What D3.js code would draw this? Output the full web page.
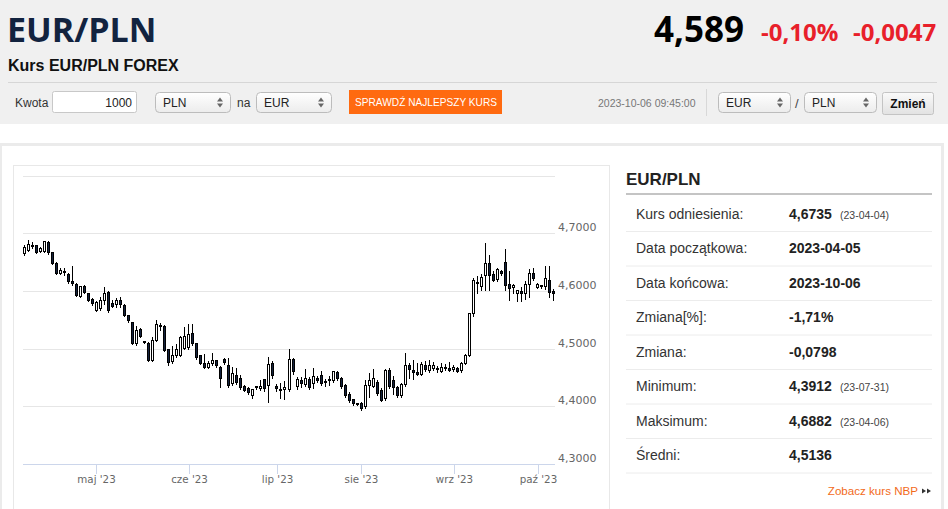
<!DOCTYPE html>
<html lang="pl">
<head>
<meta charset="utf-8">
<title>EUR/PLN</title>
<script src="https://cdn.jsdelivr.net/npm/d3@7.9.0/dist/d3.min.js"></script>
<style>
  html, body { margin: 0; padding: 0; background: #fff; overflow: hidden; }
  svg { display: block; }
  text { font-family: "Liberation Sans", Arial, sans-serif; }
</style>
</head>
<body>
<svg id="page" width="948" height="509"></svg>
<script>
// quote header
const pairName = 'EUR/PLN';
const subtitle = 'Kurs EUR/PLN FOREX';
const lastPrice = '4,589';
const changePct = '-0,10%';
const changeAbs = '-0,0047';
const quoteTime = '2023-10-06 09:45:00';

// daily candles, trading days from startDay to endDay
const startDay = '2023-04-05';
const endDay = '2023-10-06';

const opens = [
  4.664, 4.670, 4.678, 4.677, 4.667, 4.668, 4.683, 4.665, 4.647, 4.629,
  4.633, 4.628, 4.616, 4.611, 4.589, 4.607, 4.595, 4.584, 4.566, 4.569,
  4.582, 4.597, 4.577, 4.576, 4.583, 4.574, 4.556, 4.544, 4.508, 4.532,
  4.511, 4.508, 4.479, 4.514, 4.540, 4.538, 4.497, 4.476, 4.487, 4.488,
  4.500, 4.501, 4.525, 4.508, 4.487, 4.473, 4.467, 4.474, 4.478, 4.467,
  4.481, 4.470, 4.438, 4.452, 4.447, 4.433, 4.430, 4.418, 4.432, 4.430,
  4.446, 4.436, 4.474, 4.433, 4.428, 4.429, 4.428, 4.480, 4.433, 4.444,
  4.437, 4.446, 4.438, 4.447, 4.453, 4.440, 4.443, 4.444, 4.457, 4.448,
  4.435, 4.420, 4.411, 4.404, 4.404, 4.398, 4.435, 4.434, 4.440, 4.427,
  4.412, 4.462, 4.444, 4.432, 4.418, 4.437, 4.470, 4.462, 4.458, 4.455,
  4.470, 4.462, 4.465, 4.464, 4.460, 4.467, 4.465, 4.463, 4.464, 4.461,
  4.474, 4.488, 4.560, 4.614, 4.606, 4.625, 4.647, 4.628, 4.619, 4.632,
  4.649, 4.611, 4.605, 4.594, 4.598, 4.594, 4.610, 4.629, 4.605, 4.609,
  4.606, 4.618, 4.598
];
const highs = [
  4.679, 4.688, 4.684, 4.680, 4.676, 4.687, 4.686, 4.667, 4.650, 4.640,
  4.640, 4.631, 4.643, 4.614, 4.609, 4.611, 4.597, 4.588, 4.583, 4.589,
  4.607, 4.600, 4.585, 4.588, 4.590, 4.577, 4.559, 4.545, 4.540, 4.535,
  4.513, 4.512, 4.520, 4.549, 4.545, 4.541, 4.500, 4.505, 4.508, 4.522,
  4.538, 4.543, 4.543, 4.510, 4.489, 4.490, 4.479, 4.493, 4.480, 4.469,
  4.484, 4.484, 4.468, 4.466, 4.455, 4.437, 4.433, 4.430, 4.436, 4.445,
  4.448, 4.486, 4.478, 4.438, 4.441, 4.444, 4.499, 4.484, 4.450, 4.450,
  4.465, 4.450, 4.466, 4.452, 4.462, 4.448, 4.452, 4.461, 4.462, 4.451,
  4.438, 4.425, 4.413, 4.406, 4.407, 4.446, 4.457, 4.464, 4.445, 4.432,
  4.465, 4.466, 4.453, 4.435, 4.440, 4.492, 4.475, 4.480, 4.475, 4.476,
  4.478, 4.480, 4.477, 4.470, 4.475, 4.474, 4.477, 4.472, 4.468, 4.476,
  4.490, 4.562, 4.623, 4.626, 4.629, 4.683, 4.663, 4.635, 4.640, 4.636,
  4.672, 4.635, 4.612, 4.602, 4.606, 4.617, 4.638, 4.639, 4.614, 4.611,
  4.643, 4.643, 4.603
];
const lows = [
  4.661, 4.667, 4.672, 4.664, 4.665, 4.665, 4.662, 4.645, 4.627, 4.627,
  4.626, 4.612, 4.609, 4.590, 4.588, 4.594, 4.581, 4.574, 4.563, 4.566,
  4.575, 4.561, 4.570, 4.571, 4.570, 4.555, 4.544, 4.506, 4.505, 4.518,
  4.508, 4.477, 4.476, 4.512, 4.530, 4.494, 4.470, 4.473, 4.484, 4.486,
  4.497, 4.498, 4.505, 4.481, 4.471, 4.465, 4.464, 4.470, 4.467, 4.432,
  4.472, 4.432, 4.435, 4.437, 4.428, 4.424, 4.420, 4.413, 4.428, 4.427,
  4.425, 4.406, 4.448, 4.425, 4.413, 4.411, 4.425, 4.455, 4.428, 4.432,
  4.434, 4.429, 4.430, 4.440, 4.436, 4.434, 4.435, 4.440, 4.444, 4.430,
  4.415, 4.406, 4.400, 4.400, 4.3912, 4.395, 4.414, 4.431, 4.418, 4.407,
  4.409, 4.430, 4.420, 4.414, 4.415, 4.434, 4.448, 4.445, 4.452, 4.452,
  4.459, 4.458, 4.461, 4.457, 4.458, 4.461, 4.460, 4.460, 4.457, 4.457,
  4.471, 4.485, 4.555, 4.594, 4.600, 4.600, 4.600, 4.615, 4.615, 4.626,
  4.600, 4.583, 4.594, 4.580, 4.580, 4.585, 4.588, 4.618, 4.603, 4.603,
  4.602, 4.588, 4.583
];
const closes = [
  4.675, 4.680, 4.676, 4.666, 4.673, 4.685, 4.665, 4.647, 4.630, 4.634,
  4.632, 4.616, 4.612, 4.592, 4.607, 4.596, 4.583, 4.578, 4.579, 4.583,
  4.595, 4.566, 4.572, 4.583, 4.575, 4.557, 4.547, 4.508, 4.530, 4.520,
  4.510, 4.479, 4.513, 4.541, 4.538, 4.496, 4.475, 4.487, 4.497, 4.519,
  4.520, 4.524, 4.508, 4.484, 4.474, 4.467, 4.474, 4.479, 4.470, 4.447,
  4.475, 4.435, 4.456, 4.441, 4.432, 4.427, 4.423, 4.428, 4.433, 4.434,
  4.430, 4.472, 4.452, 4.430, 4.429, 4.431, 4.480, 4.460, 4.445, 4.438,
  4.448, 4.432, 4.450, 4.444, 4.439, 4.442, 4.446, 4.459, 4.447, 4.434,
  4.418, 4.410, 4.404, 4.403, 4.396, 4.435, 4.444, 4.447, 4.421, 4.410,
  4.462, 4.433, 4.432, 4.418, 4.437, 4.470, 4.463, 4.457, 4.455, 4.471,
  4.463, 4.470, 4.470, 4.463, 4.467, 4.466, 4.462, 4.466, 4.460, 4.474,
  4.488, 4.560, 4.617, 4.612, 4.623, 4.646, 4.626, 4.618, 4.637, 4.630,
  4.609, 4.603, 4.608, 4.600, 4.594, 4.611, 4.629, 4.621, 4.611, 4.607,
  4.620, 4.597, 4.594
];

const yGrid = [4.3, 4.4, 4.5, 4.6, 4.7, 4.8];
const yLabelled = [4.3, 4.4, 4.5, 4.6, 4.7];
const monthStarts = ['2023-05-01', '2023-06-01', '2023-07-01', '2023-08-01', '2023-09-01', '2023-10-01'];
const monthLabels = ["maj '23", "cze '23", "lip '23", "sie '23", "wrz '23", "paź '23"];

// side table
const statLabels = ['Kurs odniesienia:', 'Data początkowa:', 'Data końcowa:', 'Zmiana[%]:',
  'Zmiana:', 'Minimum:', 'Maksimum:', 'Średni:'];
const statValues = ['4,6735', '2023-04-05', '2023-10-06', '-1,71%', '-0,0798', '4,3912', '4,6882', '4,5136'];
const statDates = ['(23-04-04)', '', '', '', '', '(23-07-31)', '(23-04-06)', ''];

const page = d3.select('#page');
const defs = page.append('defs');

const selGrad = defs.append('linearGradient').attr('id', 'selGrad').attr('x1', 0).attr('x2', 0).attr('y1', 0).attr('y2', 1);
selGrad.append('stop').attr('offset', '0%').attr('stop-color', '#ffffff');
selGrad.append('stop').attr('offset', '100%').attr('stop-color', '#ececec');

const btnGrad = defs.append('linearGradient').attr('id', 'btnGrad').attr('x1', 0).attr('x2', 0).attr('y1', 0).attr('y2', 1);
btnGrad.append('stop').attr('offset', '0%').attr('stop-color', '#fafafa');
btnGrad.append('stop').attr('offset', '100%').attr('stop-color', '#e2e2e2');

// ---------- header ----------
page.append('rect').attr('x', 0).attr('y', 0).attr('width', 948).attr('height', 124).attr('fill', '#f0f0f0');

page.append('text').attr('x', 7).attr('y', 42)
  .style('font-family', '"Open Sans", sans-serif').style('font-weight', 700)
  .style('font-size', '34px').attr('fill', '#12233f').text(pairName);

page.append('text').attr('x', 8).attr('y', 71)
  .style('font-weight', 'bold').style('font-size', '16px').attr('fill', '#111').text(subtitle);

page.append('text').attr('x', 654).attr('y', 42)
  .style('font-family', '"Open Sans", sans-serif').style('font-weight', 700)
  .style('font-size', '35px').attr('fill', '#000').text(lastPrice);

page.append('text').attr('x', 761).attr('y', 41)
  .style('font-family', '"Open Sans", sans-serif').style('font-weight', 700)
  .style('font-size', '24px').attr('fill', '#e8202a').text(changePct);

page.append('text').attr('x', 853).attr('y', 41)
  .style('font-family', '"Open Sans", sans-serif').style('font-weight', 700)
  .style('font-size', '24px').attr('fill', '#e8202a').text(changeAbs);

page.append('line').attr('x1', 8).attr('x2', 937).attr('y1', 82.5).attr('y2', 82.5)
  .attr('stroke', '#d6d6d6');

// toolbar
function label(x, y, str, size, color, weight) {
  return page.append('text').attr('x', x).attr('y', y)
    .style('font-size', size + 'px').style('font-weight', weight || 'normal')
    .attr('fill', color).text(str);
}

function selectBox(x0, x1, y0, y1, str) {
  const g = page.append('g');
  g.append('rect').attr('x', x0 + 0.5).attr('y', y0 + 0.5)
    .attr('width', x1 - x0 - 1).attr('height', y1 - y0 - 1).attr('rx', 4)
    .attr('fill', 'url(#selGrad)').attr('stroke', '#bcbcbc');
  g.append('text').attr('x', x0 + 8).attr('y', (y0 + y1) / 2 + 4.5)
    .style('font-size', '12px').attr('fill', '#222').text(str);
  const cx = x1 - 11, mid = (y0 + y1) / 2;
  g.append('path').attr('d', `M${cx - 3},${mid - 1}L${cx + 3},${mid - 1}L${cx},${mid - 5}Z`).attr('fill', '#666');
  g.append('path').attr('d', `M${cx - 3},${mid + 1}L${cx + 3},${mid + 1}L${cx},${mid + 5}Z`).attr('fill', '#666');
}

label(15, 107, 'Kwota', 12, '#333');
page.append('rect').attr('x', 52.5).attr('y', 91.5).attr('width', 84).attr('height', 21).attr('rx', 2)
  .attr('fill', '#fff').attr('stroke', '#c8c8c8');
label(132, 107, '1000', 12, '#222').attr('text-anchor', 'end');

selectBox(155, 231, 92, 113, 'PLN');
label(237, 107, 'na', 12, '#333');
selectBox(256, 332, 92, 113, 'EUR');

page.append('rect').attr('x', 349).attr('y', 90).attr('width', 153).attr('height', 24).attr('fill', '#ff6a10');
label(355, 105.5, 'SPRAWDŹ NAJLEPSZY KURS', 11, '#fff')
  .attr('textLength', 142).attr('lengthAdjust', 'spacingAndGlyphs');

label(598, 107, quoteTime, 10.5, '#777');
page.append('line').attr('x1', 706.5).attr('x2', 706.5).attr('y1', 89).attr('y2', 116).attr('stroke', '#d8d8d8');

selectBox(718, 791, 92, 113, 'EUR');
label(795, 108, '/', 13, '#444');
selectBox(804, 877, 92, 113, 'PLN');

page.append('rect').attr('x', 882.5).attr('y', 92.5).attr('width', 51).attr('height', 22).attr('rx', 2)
  .attr('fill', 'url(#btnGrad)').attr('stroke', '#c4c4c4');
label(908, 107.5, 'Zmień', 12, '#111', 'bold').attr('text-anchor', 'middle');

// ---------- content panel ----------
page.append('rect').attr('x', 0.5).attr('y', 144.5).attr('width', 942).attr('height', 400)
  .attr('fill', '#fff').attr('stroke', '#ebebeb').attr('stroke-width', 3);

page.append('rect').attr('x', 13.5).attr('y', 165.5).attr('width', 596).attr('height', 400)
  .attr('fill', '#fff').attr('stroke', '#e8e8e8');

// ---------- chart ----------
const parseDay = d3.utcParse('%Y-%m-%d');
const days = d3.utcDay.range(parseDay(startDay), d3.utcDay.offset(parseDay(endDay), 1))
  .filter(d => d.getUTCDay() !== 0 && d.getUTCDay() !== 6);

const candles = days.map((date, i) => ({
  date, open: opens[i], high: highs[i], low: lows[i], close: closes[i]
}));

const plot = { left: 23, right: 555, top: 175, bottom: 464 };

const x = d3.scaleBand()
  .domain(candles.map(d => +d.date))
  .range([plot.left - 1, plot.right + 1]);

const y = d3.scaleLinear()
  .domain([4.3, 4.8])
  .range([plot.bottom, plot.bottom - 5 * 57.7]);

const crisp = v => Math.round(v) + 0.5;

const chart = page.append('g').attr('class', 'chart');

chart.append('g')
  .attr('class', 'gridlines')
  .attr('transform', `translate(${plot.right}, 0)`)
  .call(d3.axisLeft(y).tickValues(yGrid).tickSize(plot.right - plot.left).tickFormat(''))
  .call(g => g.select('.domain').remove())
  .call(g => g.selectAll('.tick line').attr('stroke', '#e6e6e6'))
  .call(g => g.selectAll('.tick').attr('transform', d => `translate(0,${crisp(y(d))})`));

const fmtRate = v => d3.format('.4f')(v).replace('.', ',');

chart.append('g')
  .attr('class', 'y-labels')
  .attr('transform', `translate(${plot.right + 3}, 0)`)
  .call(d3.axisRight(y).tickValues(yLabelled).tickSize(0).tickPadding(0).tickFormat(fmtRate))
  .call(g => g.select('.domain').remove())
  .call(g => g.selectAll('text')
    .attr('dy', null).attr('y', -2.5)
    .attr('fill', '#666')
    .style('font-family', '"DejaVu Sans", Verdana, sans-serif')
    .style('font-size', '11px'));

// x axis, ticks at the first trading day of each month
const tickKeys = monthStarts.map(s => {
  const t = parseDay(s);
  return +candles.find(d => d.date >= t).date;
});
const tickText = new Map(tickKeys.map((k, i) => [k, monthLabels[i]]));

chart.append('g')
  .attr('class', 'x-axis')
  .attr('transform', `translate(0, ${crisp(plot.bottom) - 0.5})`)
  .call(d3.axisBottom(x).tickValues(tickKeys).tickSize(10).tickPadding(0).tickFormat(k => tickText.get(k)))
  .call(g => g.select('.domain').remove())
  .call(g => g.selectAll('.tick').attr('transform', k => `translate(${crisp(x(k) + x.bandwidth() / 2)},0)`))
  .call(g => g.selectAll('.tick line').attr('stroke', '#ccd6eb'))
  .call(g => g.selectAll('text')
    .attr('dy', null).attr('y', 19)
    .attr('fill', '#666')
    .style('font-family', '"DejaVu Sans", Verdana, sans-serif')
    .style('font-size', '10.3px'));

chart.append('line')
  .attr('x1', plot.left).attr('x2', plot.right)
  .attr('y1', crisp(plot.bottom)).attr('y2', crisp(plot.bottom))
  .attr('stroke', '#ccd6eb');

// candlesticks
const sticks = chart.append('g').attr('class', 'candles')
  .selectAll('g')
  .data(candles)
  .join('g');

const leftOf = d => Math.floor(x(+d.date) + x.bandwidth() / 2) - 1;

sticks.append('line')
  .attr('x1', d => leftOf(d) + 1.5)
  .attr('x2', d => leftOf(d) + 1.5)
  .attr('y1', d => Math.round(y(d.high)))
  .attr('y2', d => Math.round(y(d.low)))
  .attr('stroke', '#000');

sticks.append('rect')
  .attr('x', d => leftOf(d) + 0.5)
  .attr('width', 2)
  .attr('y', d => crisp(y(Math.max(d.open, d.close))) - 1)
  .attr('height', d => Math.max(1, Math.round(y(Math.min(d.open, d.close))) - Math.round(y(Math.max(d.open, d.close)))))
  .attr('fill', d => d.close >= d.open ? '#fff' : '#13213d')
  .attr('stroke', '#000');

// ---------- side table ----------
const side = page.append('g').attr('class', 'side');
const rowTop = 196.5, rowH = 34.5;

side.append('text').attr('x', 626).attr('y', 184.5)
  .style('font-weight', 'bold').style('font-size', '17px').attr('fill', '#222').text(pairName);
side.append('rect').attr('x', 626).attr('y', 193).attr('width', 306).attr('height', 2).attr('fill', '#c4c4c4');

const rows = side.selectAll('g.row')
  .data(statLabels.map((l, i) => ({ label: l, value: statValues[i], date: statDates[i] })))
  .join('g')
  .attr('class', 'row')
  .attr('transform', (d, i) => `translate(0, ${rowTop + rowH * i})`);

rows.append('text').attr('x', 636).attr('y', 22.3)
  .style('font-size', '14px').attr('fill', '#333').text(d => d.label);
rows.append('text').attr('x', 789).attr('y', 22.3)
  .style('font-size', '14px').style('font-weight', 'bold').attr('fill', '#222').text(d => d.value);
rows.append('text').attr('x', 840).attr('y', 22.3)
  .style('font-size', '10.5px').attr('fill', '#444').text(d => d.date);
rows.append('line').attr('x1', 626).attr('x2', 932)
  .attr('y1', Math.round(rowH)).attr('y2', Math.round(rowH))
  .attr('stroke', '#ececec');

side.append('text').attr('x', 918).attr('y', 495).attr('text-anchor', 'end')
  .style('font-size', '11.6px').attr('fill', '#f26a1b').text('Zobacz kurs NBP');
side.append('path').attr('d', 'M922,488.5L926,491L922,493.5Z M927,488.5L931,491L927,493.5Z').attr('fill', '#333');
</script>
</body>
</html>
